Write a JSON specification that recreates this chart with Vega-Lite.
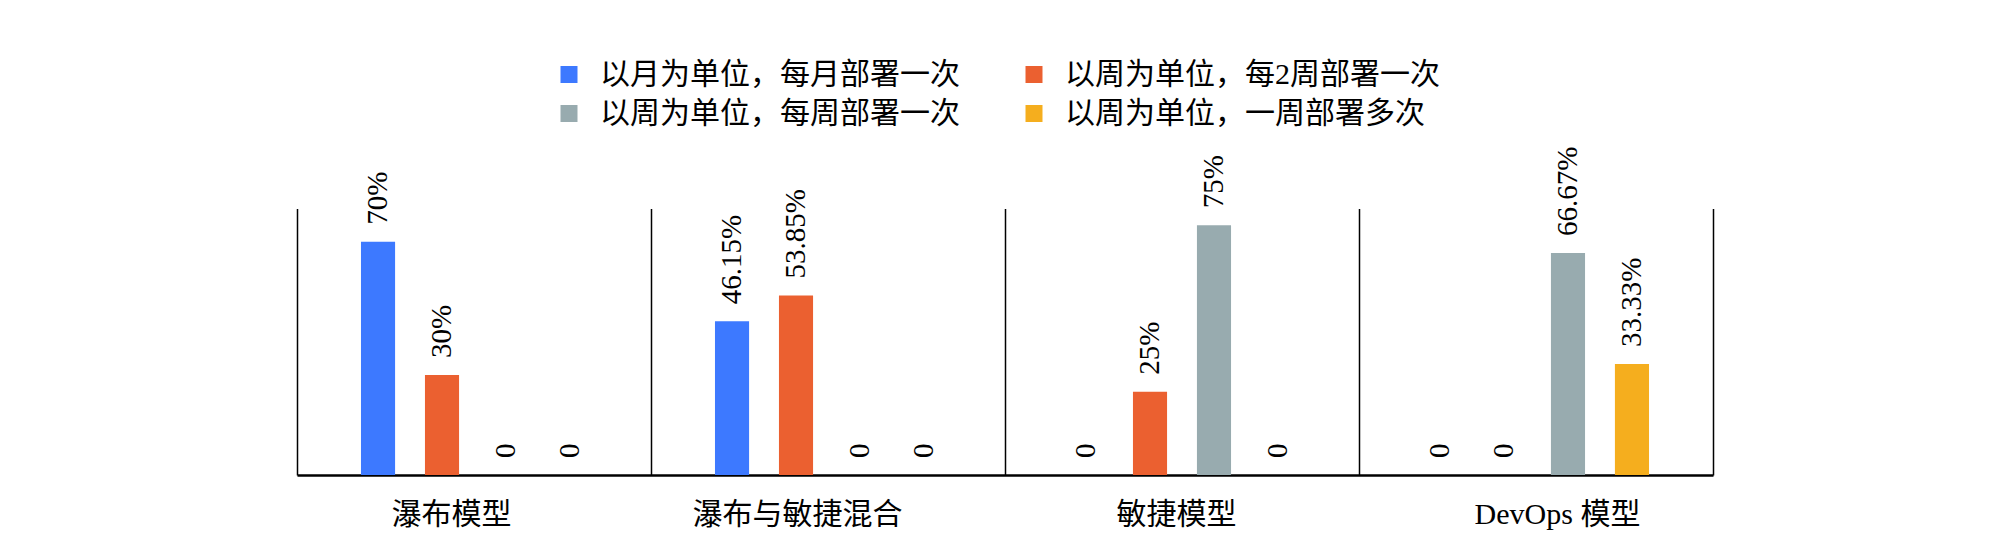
{
  "$schema": "https://vega.github.io/schema/vega-lite/v6.json",
  "autosize": "none",
  "width": 1416,
  "height": 266.5,
  "padding": {"left": 297, "top": 208.5, "right": 295, "bottom": 62},
  "background": "white",
  "config": {
    "view": {"stroke": null},
    "font": "Liberation Serif, Noto Sans CJK SC",
    "text": {"font": "Liberation Serif, Noto Sans CJK SC", "fontSize": 29, "color": "#000000"}
  },
  "data": {
    "values": [
      {"model": "瀑布模型", "mode": "以月为单位，每月部署一次", "value": 70, "label": "70%"},
      {"model": "瀑布模型", "mode": "以周为单位，每2周部署一次", "value": 30, "label": "30%"},
      {"model": "瀑布模型", "mode": "以周为单位，每周部署一次", "value": 0, "label": "0"},
      {"model": "瀑布模型", "mode": "以周为单位，一周部署多次", "value": 0, "label": "0"},
      {"model": "瀑布与敏捷混合", "mode": "以月为单位，每月部署一次", "value": 46.15, "label": "46.15%"},
      {"model": "瀑布与敏捷混合", "mode": "以周为单位，每2周部署一次", "value": 53.85, "label": "53.85%"},
      {"model": "瀑布与敏捷混合", "mode": "以周为单位，每周部署一次", "value": 0, "label": "0"},
      {"model": "瀑布与敏捷混合", "mode": "以周为单位，一周部署多次", "value": 0, "label": "0"},
      {"model": "敏捷模型", "mode": "以月为单位，每月部署一次", "value": 0, "label": "0"},
      {"model": "敏捷模型", "mode": "以周为单位，每2周部署一次", "value": 25, "label": "25%"},
      {"model": "敏捷模型", "mode": "以周为单位，每周部署一次", "value": 75, "label": "75%"},
      {"model": "敏捷模型", "mode": "以周为单位，一周部署多次", "value": 0, "label": "0"},
      {"model": "DevOps 模型", "mode": "以月为单位，每月部署一次", "value": 0, "label": "0"},
      {"model": "DevOps 模型", "mode": "以周为单位，每2周部署一次", "value": 0, "label": "0"},
      {"model": "DevOps 模型", "mode": "以周为单位，每周部署一次", "value": 66.67, "label": "66.67%"},
      {"model": "DevOps 模型", "mode": "以周为单位，一周部署多次", "value": 33.33, "label": "33.33%"}
    ]
  },
  "encoding": {
    "x": {
      "field": "model",
      "type": "nominal",
      "sort": ["瀑布模型", "瀑布与敏捷混合", "敏捷模型", "DevOps 模型"],
      "scale": {"paddingInner": 0, "paddingOuter": 0},
      "axis": {
        "title": null,
        "grid": true,
        "tickBand": "extent",
        "gridColor": "#000000",
        "gridOpacity": 1,
        "gridWidth": 1.5,
        "ticks": false,
        "tickSize": 0,
        "domain": true,
        "domainColor": "#000000",
        "domainWidth": 2.5,
        "labelAngle": 0,
        "labelFont": "Liberation Serif, Noto Sans CJK SC",
        "labelFontSize": 30,
        "labelColor": "#000000",
        "labelPadding": 24,
        "labelLimit": 0,
        "labelOffset": {
          "condition": [
            {"test": "datum.value === '瀑布模型'", "value": -23},
            {"test": "datum.value === '瀑布与敏捷混合'", "value": -31},
            {"test": "datum.value === '敏捷模型'", "value": -6}
          ],
          "value": 21
        }
      }
    },
    "xOffset": {
      "field": "mode",
      "type": "nominal",
      "sort": ["以月为单位，每月部署一次", "以周为单位，每2周部署一次", "以周为单位，每周部署一次", "以周为单位，一周部署多次"],
      "scale": {"paddingInner": 0.467, "paddingOuter": 1.18}
    },
    "y": {
      "field": "value",
      "type": "quantitative",
      "scale": {"domain": [0, 80], "nice": false},
      "axis": null
    }
  },
  "layer": [
    {
      "mark": {"type": "bar"},
      "encoding": {
        "color": {
          "field": "mode",
          "type": "nominal",
          "sort": ["以月为单位，每月部署一次", "以周为单位，每2周部署一次", "以周为单位，每周部署一次", "以周为单位，一周部署多次"],
          "scale": {
            "domain": ["以月为单位，每月部署一次", "以周为单位，每2周部署一次", "以周为单位，每周部署一次", "以周为单位，一周部署多次"],
            "range": ["#3D79FF", "#EB6030", "#98ABAF", "#F5AE1E"]
          },
          "legend": {
            "title": null,
            "orient": "none",
            "legendX": 257,
            "legendY": -149,
            "columns": 2,
            "direction": "horizontal",
            "symbolType": "square",
            "symbolSize": 289,
            "symbolStrokeWidth": 0,
            "labelFont": "Liberation Serif, Noto Sans CJK SC",
            "labelFontSize": 30,
            "labelColor": "#000000",
            "labelOffset": 16,
            "labelLimit": 0,
            "columnPadding": 59,
            "rowPadding": 9,
            "padding": 0
          }
        }
      }
    },
    {
      "mark": {
        "type": "text",
        "angle": -90,
        "align": "left",
        "baseline": "middle",
        "dx": 17,
        "font": "Liberation Serif, Noto Sans CJK SC",
        "fontSize": 29,
        "color": "#000000"
      },
      "encoding": {
        "text": {"field": "label", "type": "nominal"}
      }
    }
  ]
}
